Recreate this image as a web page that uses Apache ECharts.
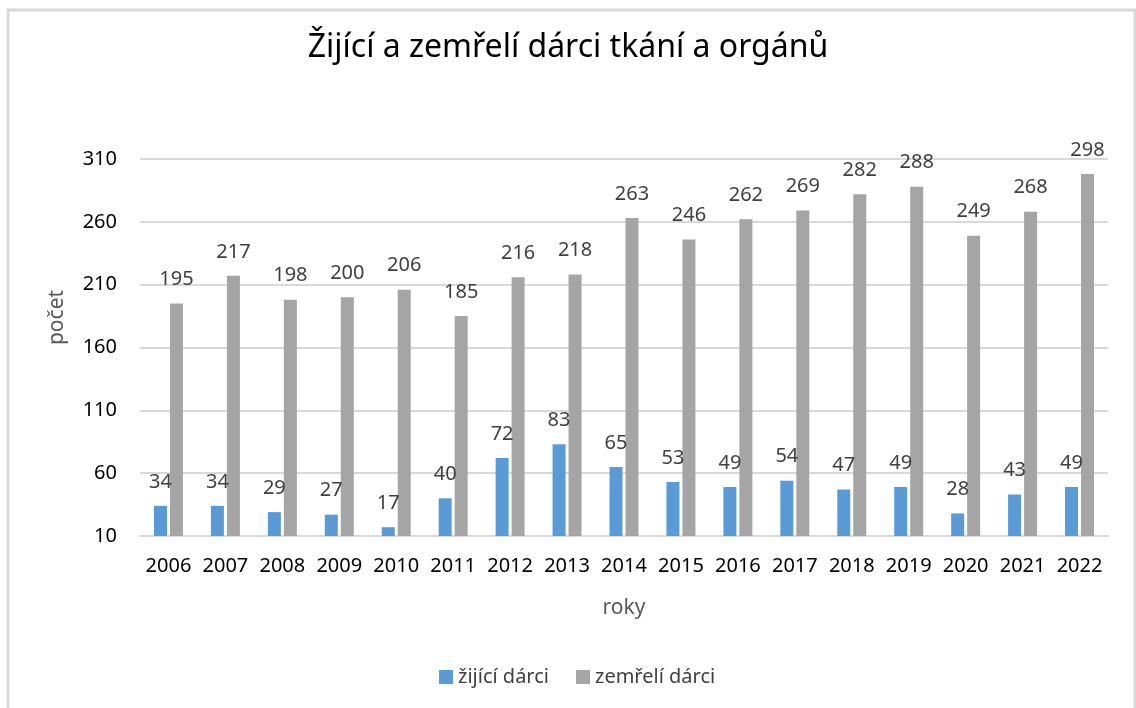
<!DOCTYPE html>
<html>
<head>
<meta charset="utf-8">
<script src="https://cdn.jsdelivr.net/npm/echarts@6/dist/echarts.min.js"></script>
<style>html,body{margin:0;padding:0;background:#fff}#c{width:1136px;height:708px}</style>
</head>
<body>
<div id="c"></div>
<script>
const years = ['2006','2007','2008','2009','2010','2011','2012','2013','2014','2015','2016','2017','2018','2019','2020','2021','2022'];
const zijici = [34,34,29,27,17,40,72,83,65,53,49,54,47,49,28,43,49];
const zemreli = [195,217,198,200,206,185,216,218,263,246,262,269,282,288,249,268,298];
const titleText = 'Žijící a zemřelí dárci tkání a orgánů';
const seriesNames = ['žijící dárci','zemřelí dárci'];

const FONT = 'Noto Sans';
const chart = echarts.init(document.getElementById('c'), null, {renderer:'canvas'});
const labelStyle = {show:true, position:'top', distance:14, color:'#404040', fontSize:20, fontFamily:FONT};
chart.setOption({
  animation:false,
  backgroundColor:'#fff',
  graphic:[{type:'rect', shape:{x:8, y:10, width:1127, height:720}, style:{fill:'none', stroke:'#d9d9d9', lineWidth:3}, silent:true}],
  title:{text:titleText, left:'center', top:27, textStyle:{fontFamily:FONT, fontSize:32, fontWeight:'normal', color:'#000'}},
  legend:{data:seriesNames, left:434, top:662, itemWidth:14, itemHeight:14, itemGap:27, icon:'rect',
    textStyle:{fontFamily:FONT, fontSize:20, color:'#404040'}},
  grid:{left:140, right:28, top:159, bottom:172},
  xAxis:{type:'category', data:years, name:'roky', nameLocation:'middle', nameGap:62,
    nameTextStyle:{fontFamily:FONT, fontSize:21, color:'#595959'},
    axisLine:{lineStyle:{color:'#d9d9d9', width:2}}, axisTick:{show:false},
    axisLabel:{interval:0, fontFamily:FONT, fontSize:20, color:'#000', margin:20}},
  yAxis:{type:'value', min:10, max:310, interval:50, name:'počet', nameLocation:'middle', nameGap:72,
    nameTextStyle:{fontFamily:FONT, fontSize:21, color:'#595959', padding:[0,0,0,60]},
    axisLine:{show:false}, axisTick:{show:false},
    axisLabel:{fontFamily:FONT, fontSize:20, color:'#000', margin:23},
    splitLine:{lineStyle:{color:'#d9d9d9', width:2}}},
  series:[
    {name:seriesNames[0], type:'bar', data:zijici, barWidth:13, barGap:'23%', itemStyle:{color:'#5b9bd5'}, label:labelStyle},
    {name:seriesNames[1], type:'bar', data:zemreli, barWidth:13, barGap:'23%', itemStyle:{color:'#a5a5a5'}, label:labelStyle}
  ]
});
</script>
</body>
</html>
